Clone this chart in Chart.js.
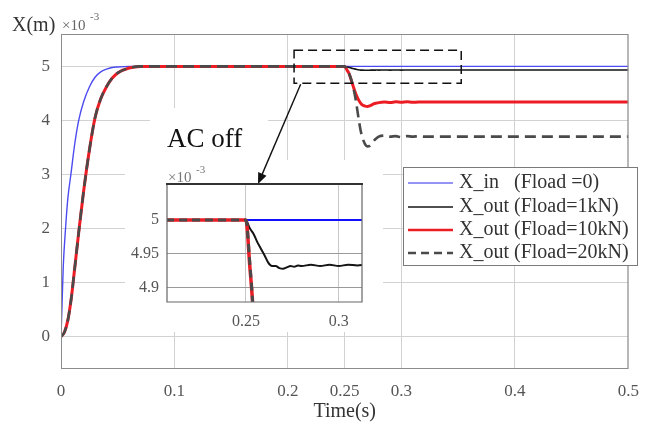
<!DOCTYPE html>
<html>
<head>
<meta charset="utf-8">
<script src="https://cdn.jsdelivr.net/npm/chart.js@4.4.1/dist/chart.umd.min.js"></script>
<style>
  html, body { margin: 0; padding: 0; background: #fff; }
  #wrap { position: relative; width: 651px; height: 430px; }
  #main { position: absolute; left: 0; top: 0; }
  #inset { position: absolute; left: 125px; top: 160px; }
</style>
</head>
<body>
<div id="wrap">
  <canvas id="main" width="651" height="430"></canvas>
  <canvas id="inset" width="258" height="172"></canvas>
</div>
<script>
// Ingresso X_in (Fload = 0), in mm (x10^-3 m)
const tIn = [0, 0.001, 0.002, 0.004, 0.006, 0.0087, 0.012, 0.0156, 0.02, 0.025, 0.03, 0.035, 0.04, 0.045, 0.05, 0.06, 0.1, 0.25, 0.5];
const xIn = [0, 0.65, 1.3, 2.0, 2.55, 3.0, 3.55, 4.0, 4.35, 4.62, 4.8, 4.9, 4.95, 4.98, 4.99, 5, 5, 5, 5];

// Uscite X_out, stesso asse dei tempi
const tOut = [0, 0.003, 0.006, 0.009, 0.012, 0.016, 0.02, 0.025, 0.03, 0.035, 0.04, 0.045, 0.05, 0.06, 0.07, 0.1, 0.2, 0.25,
  0.252, 0.254, 0.256, 0.258, 0.26, 0.262, 0.264, 0.266, 0.268, 0.27, 0.272, 0.274, 0.276, 0.278, 0.28,
  0.285, 0.29, 0.295, 0.3, 0.305, 0.31, 0.315, 0.32, 0.35, 0.4, 0.45, 0.5];
const x1kN = [0, 0.08, 0.3, 0.7, 1.25, 2.0, 2.7, 3.45, 4.05, 4.4, 4.62, 4.78, 4.88, 4.97, 5, 5, 5, 5,
  4.988, 4.98, 4.968, 4.958, 4.948, 4.937, 4.932, 4.932, 4.929, 4.928, 4.93, 4.932, 4.931, 4.933, 4.932,
  4.934, 4.932, 4.934, 4.932, 4.934, 4.933, 4.934, 4.933, 4.933, 4.933, 4.933, 4.933];
const x10kN = [0, 0.08, 0.3, 0.7, 1.25, 2.0, 2.7, 3.45, 4.05, 4.4, 4.62, 4.78, 4.88, 4.97, 5, 5, 5, 5,
  4.935, 4.86, 4.73, 4.6, 4.48, 4.39, 4.32, 4.28, 4.265, 4.26, 4.27, 4.29, 4.31, 4.32, 4.33,
  4.34, 4.33, 4.345, 4.335, 4.345, 4.335, 4.34, 4.34, 4.34, 4.34, 4.34, 4.34];
const x20kN = [0, 0.08, 0.3, 0.7, 1.25, 2.0, 2.7, 3.45, 4.05, 4.4, 4.62, 4.78, 4.88, 4.97, 5, 5, 5, 5,
  4.94, 4.86, 4.74, 4.57, 4.35, 4.07, 3.82, 3.66, 3.56, 3.52, 3.53, 3.58, 3.63, 3.67, 3.7,
  3.72, 3.7, 3.71, 3.69, 3.71, 3.7, 3.71, 3.7, 3.7, 3.7, 3.7, 3.7];

const seriesNames = ["X_in   (Fload =0)", "X_out (Fload=1kN)", "X_out (Fload=10kN)", "X_out (Fload=20kN)"];
const xTicks = [0, 0.1, 0.2, 0.25, 0.3, 0.4, 0.5];
const yTicks = [0, 1, 2, 3, 4, 5];
const xTicksInset = [0.25, 0.3];
const yTicksInset = [4.9, 4.95, 5];

const serif = "'Liberation Serif', 'DejaVu Serif', serif";
const punti = (t, v) => t.map((x, i) => ({ x: x, y: v[i] }));

function creaDatasets(spessore) {
  return [
    { label: seriesNames[0], data: punti(tIn, xIn), borderColor: spessore ? "#1010ff" : "#4b4bf0", borderWidth: spessore ? 2 : 1.4, order: 4 },
    { label: seriesNames[1], data: punti(tOut, x1kN), borderColor: "#141414", borderWidth: spessore ? 2 : 1.6, order: 3 },
    { label: seriesNames[2], data: punti(tOut, x10kN), borderColor: "#ec1c24", borderWidth: spessore ? 3.5 : 3, order: 2 },
    { label: seriesNames[3], data: punti(tOut, x20kN), borderColor: "#4a4a4a", borderWidth: spessore ? 3 : 2.6, borderDash: spessore ? [8, 5] : [11, 6], order: 1 }
  ].map(d => Object.assign(d, { pointRadius: 0, fill: false, cubicInterpolationMode: "monotone" }));
}

// Decorazioni del grafico principale
const decorazioni = {
  id: "decorazioni",
  beforeDatasetsDraw(chart) {
    const c = chart.ctx;
    c.save();
    c.fillStyle = "#fff";
    c.fillRect(150, 108, 118, 52);
    c.fillRect(125, 160, 258, 172);
    c.restore();
  },
  afterDatasetsDraw(chart) {
    const c = chart.ctx, a = chart.chartArea;
    const sx = chart.scales.x, sy = chart.scales.y;
    c.save();
    // bordo
    c.strokeStyle = "#8c8c8c";
    c.lineWidth = 1;
    c.strokeRect(a.left + 0.5, a.top + 0.5, a.right - a.left - 1, a.bottom - a.top - 1);

    // riquadro zoom tratteggiato
    const bx0 = sx.getPixelForValue(0.2054), bx1 = sx.getPixelForValue(0.3527);
    const by0 = sy.getPixelForValue(5.3), by1 = sy.getPixelForValue(4.69);
    c.strokeStyle = "#111";
    c.lineWidth = 1.5;
    c.setLineDash([9, 5]);
    c.strokeRect(bx0, by0, bx1 - bx0, by1 - by0);
    c.setLineDash([]);

    // freccia
    const ax0 = sx.getPixelForValue(0.2112), ay0 = by1 + 1;
    const ax1 = 258, ay1 = 184;
    const ang = Math.atan2(ay1 - ay0, ax1 - ax0);
    c.beginPath();
    c.moveTo(ax0, ay0);
    c.lineTo(ax1 - 8 * Math.cos(ang), ay1 - 8 * Math.sin(ang));
    c.lineWidth = 1.4;
    c.stroke();
    c.beginPath();
    c.moveTo(ax1, ay1);
    c.lineTo(ax1 - 11 * Math.cos(ang) + 4.5 * Math.sin(ang), ay1 - 11 * Math.sin(ang) - 4.5 * Math.cos(ang));
    c.lineTo(ax1 - 11 * Math.cos(ang) - 4.5 * Math.sin(ang), ay1 - 11 * Math.sin(ang) + 4.5 * Math.cos(ang));
    c.closePath();
    c.fillStyle = "#111";
    c.fill();

    // etichetta
    c.font = "27px " + serif;
    c.fillStyle = "#111";
    c.textBaseline = "alphabetic";
    c.fillText("AC off", 167, 147);

    // titolo asse y
    c.font = "20px " + serif;
    c.fillStyle = "#333";
    c.fillText("X(m)", 12, 31);
    c.font = "15px " + serif;
    c.fillStyle = "#666";
    c.fillText("\u00d710", 62, 30);
    c.font = "11px " + serif;
    c.fillText("-3", 90, 20);

    // legenda
    c.fillStyle = "#fff";
    c.fillRect(403, 167, 235, 99);
    c.strokeStyle = "#7a7a7a";
    c.lineWidth = 1;
    c.strokeRect(403.5, 167.5, 234, 98);
    const righe = [183, 207, 230, 253];
    chart.data.datasets.forEach((d, i) => {
      const y = righe[i];
      c.beginPath();
      c.setLineDash(i === 3 ? [8, 5] : []);
      c.strokeStyle = i === 0 ? "#7070f0" : d.borderColor;
      c.lineWidth = i >= 2 ? 2.5 : 1.6;
      c.moveTo(408, y);
      c.lineTo(453, y);
      c.stroke();
      c.setLineDash([]);
      c.font = "20px " + serif;
      c.fillStyle = "#333";
      c.textBaseline = "middle";
      c.fillText(d.label, 459, y);
    });
    c.restore();
  }
};

new Chart(document.getElementById("main"), {
  type: "line",
  data: { datasets: creaDatasets(false) },
  options: {
    responsive: false,
    animation: false,
    devicePixelRatio: 1,
    layout: { padding: { left: 0, right: 13, top: 34, bottom: 0 } },
    plugins: { legend: { display: false }, tooltip: { enabled: false } },
    scales: {
      x: {
        type: "linear", min: 0, max: 0.5,
        afterFit: s => { s.height = 61; },
        afterBuildTicks: s => { s.ticks = xTicks.map(v => ({ value: v })); },
        grid: { color: "#d2d2d2", drawTicks: false },
        border: { display: false },
        ticks: { padding: 12, color: "#555", autoSkip: false, maxRotation: 0, font: { family: serif, size: 17 }, callback: v => String(v) },
        title: { display: true, text: "Time(s)", color: "#333", font: { family: serif, size: 20 }, padding: { top: 0, bottom: 6 } }
      },
      y: {
        type: "linear", min: -0.6, max: 5.6,
        afterFit: s => { s.width = 61; },
        afterBuildTicks: s => { s.ticks = yTicks.map(v => ({ value: v })); },
        grid: { color: "#d2d2d2", drawTicks: false },
        border: { display: false },
        ticks: { padding: 11, color: "#555", font: { family: serif, size: 17 }, callback: v => String(v) }
      }
    }
  },
  plugins: [decorazioni]
});

// Ingrandimento
const cornice = {
  id: "cornice",
  afterDatasetsDraw(chart) {
    const c = chart.ctx, a = chart.chartArea;
    c.save();
    c.strokeStyle = "#666";
    c.lineWidth = 1.2;
    c.beginPath();
    c.moveTo(a.left, a.top); c.lineTo(a.left, a.bottom); c.lineTo(a.right, a.bottom); c.lineTo(a.right, a.top);
    c.stroke();
    c.strokeStyle = "#333";
    c.lineWidth = 2;
    c.beginPath();
    c.moveTo(a.left - 1, a.top); c.lineTo(a.right + 1, a.top);
    c.stroke();
    c.font = "15px " + serif;
    c.fillStyle = "#777";
    c.fillText("\u00d710", a.left + 1, a.top - 2);
    c.font = "11px " + serif;
    c.fillText("-3", a.left + 29, a.top - 11);
    c.restore();
  }
};

new Chart(document.getElementById("inset"), {
  type: "line",
  data: { datasets: creaDatasets(true) },
  options: {
    responsive: false,
    animation: false,
    devicePixelRatio: 1,
    layout: { padding: { left: 0, right: 21, top: 24, bottom: 0 } },
    plugins: { legend: { display: false }, tooltip: { enabled: false } },
    scales: {
      x: {
        type: "linear", min: 0.2075, max: 0.3125,
        afterFit: s => { s.height = 30; },
        afterBuildTicks: s => { s.ticks = xTicksInset.map(v => ({ value: v })); },
        grid: { color: "#c8c8c8", drawTicks: false },
        border: { display: false },
        ticks: { padding: 10, color: "#555", autoSkip: false, maxRotation: 0, font: { family: serif, size: 16 }, callback: v => String(v) }
      },
      y: {
        type: "linear", min: 4.879, max: 5.053,
        afterFit: s => { s.width = 42; },
        afterBuildTicks: s => { s.ticks = yTicksInset.map(v => ({ value: v })); },
        grid: { color: "#9a9a9a", drawTicks: false },
        border: { display: false },
        ticks: { padding: 8, color: "#555", font: { family: serif, size: 16 }, callback: v => String(v) }
      }
    }
  },
  plugins: [cornice]
});
</script>
</body>
</html>
